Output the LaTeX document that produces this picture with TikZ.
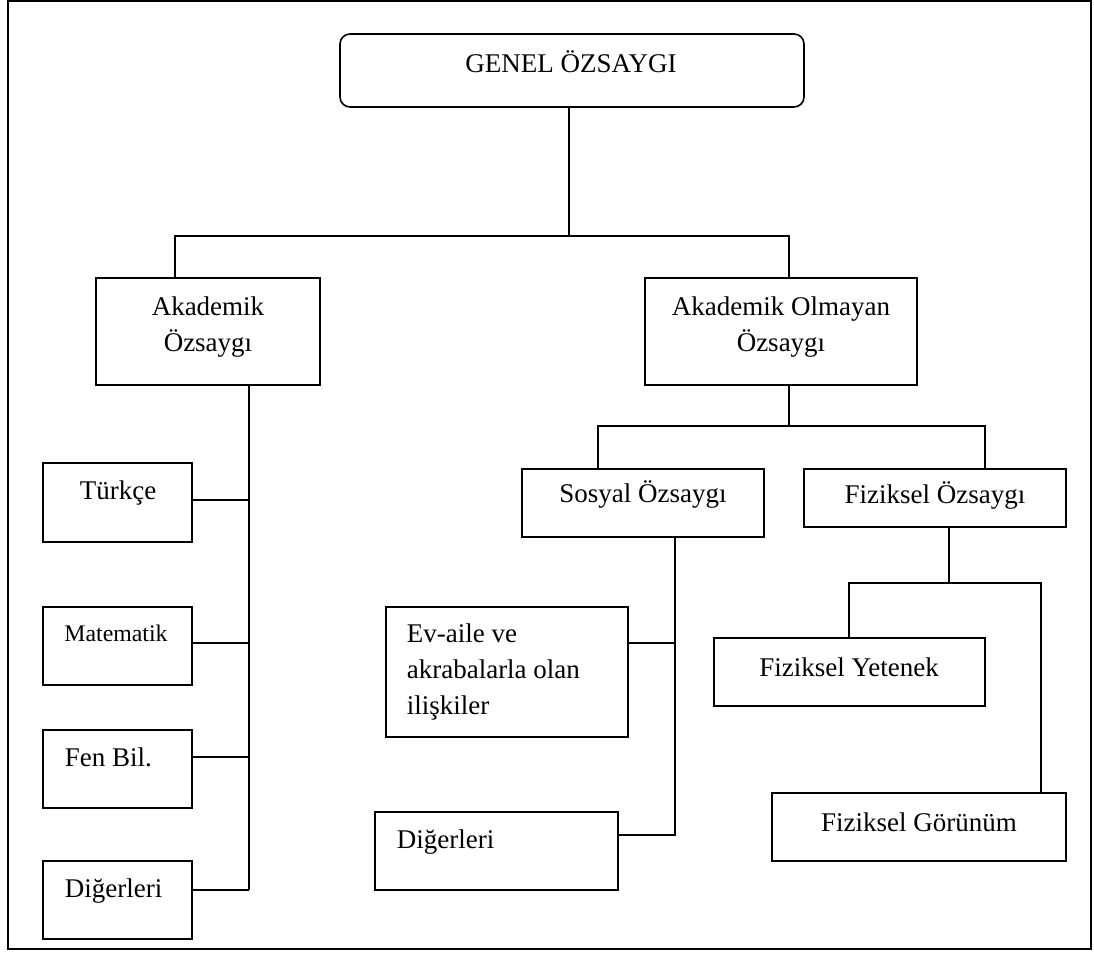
\documentclass[tikz,border=0pt]{standalone}
\usepackage{fontspec}
\setmainfont{Liberation Serif}
\usetikzlibrary{fit}
\usetikzlibrary{calc}

\begin{document}
\begin{tikzpicture}[x=0.5pt, y=-0.5pt, line width=0.8pt,
		kutu/.style={draw, inner sep=0pt},
		yazi/.style={inner sep=0pt, font=\fontsize{13.5}{18}\selectfont},
		kucuk/.style={inner sep=0pt, font=\fontsize{11.9}{16}\selectfont}]
			\useasboundingbox (0,0) rectangle (1094,953);
			\draw (8,1) rectangle (1091,949);
			
			%coordinates
			\coordinate (top)  at (569,236);
			\coordinate (tl)   at (175,236);
			\coordinate (tr)   at (789,236);
			\coordinate (ak)   at (249,890);
			\coordinate (oj)   at (789,426);
			\coordinate (ol)   at (598,426);
			\coordinate (or)   at (985,426);
			\coordinate (sj)   at (675,835);
			\coordinate (fj)   at (949,583);
			\coordinate (fl)   at (849,583);
			\coordinate (fr)   at (1041,583);
			
			%nodes
			\node[kutu, rounded corners=5pt, fit={(340,34) (804,107)}] (gen) {};
			\node[kutu, fit={(96,278) (320,385)}]   (akad) {};
			\node[kutu, fit={(645,278) (917,385)}]  (olm) {};
			\node[kutu, fit={(43,463) (192,542)}]   (tur) {};
			\node[kutu, fit={(43,607) (192,685)}]   (mat) {};
			\node[kutu, fit={(43,730) (192,808)}]   (fen) {};
			\node[kutu, fit={(43,861) (192,939)}]   (digA) {};
			\node[kutu, fit={(522,469) (764,537)}]  (sos) {};
			\node[kutu, fit={(804,469) (1066,527)}] (fiz) {};
			\node[kutu, fit={(386,607) (628,737)}]  (ev) {};
			\node[kutu, fit={(375,812) (618,890)}]  (digS) {};
			\node[kutu, fit={(714,638) (985,706)}]  (yet) {};
			\node[kutu, fit={(772,793) (1066,861)}] (gor) {};
			
			%texts (base = last line)
			\node[yazi, anchor=base] (genT) at (571,72) {GENEL ÖZSAYGI};
			\node[yazi, anchor=base, align=center] (akadT) at (208,351) {Akademik\\Özsaygı};
			\node[yazi, anchor=base, align=center] (olmT) at (781,351) {Akademik Olmayan\\Özsaygı};
			\node[yazi, anchor=base] (turT) at (118,499) {Türkçe};
			\node[kucuk, anchor=base] (matT) at (116,641) {Matematik};
			\node[yazi, anchor=base west] (fenT) at (64,766) {Fen Bil.};
			\node[yazi, anchor=base west] (digAT) at (64,897) {Diğerleri};
			\node[yazi, anchor=base] (sosT) at (643,502) {Sosyal Özsaygı};
			\node[yazi, anchor=base] (fizT) at (935,503) {Fiziksel Özsaygı};
			\node[yazi, anchor=base west, align=left] (evT) at (406,714) {Ev-aile ve\\akrabalarla olan\\ilişkiler};
			\node[yazi, anchor=base west] (digST) at (396,848) {Diğerleri};
			\node[yazi, anchor=base] (yetT) at (849,676) {Fiziksel Yetenek};
			\node[yazi, anchor=base] (gorT) at (919,831) {Fiziksel Görünüm};
			
			%connectors
			\draw (gen.south -| top) -- (top);
			\draw (akad.north -| tl) -- (tl) -- (tr) -- (olm.north -| tr);
			\draw (akad.south -| ak) -- (ak);
			\foreach \n/\y in {tur/500, mat/643, fen/757, digA/890}
				\draw (\n.east |- 0,\y) -- (ak |- 0,\y);
			\draw (olm.south -| oj) -- (oj);
			\draw (sos.north -| ol) -- (ol) -- (or) -- (fiz.north -| or);
			\draw (sos.south -| sj) -- (sj) -- (digS.east |- sj);
			\draw (ev.east |- 0,643) -- (sj |- 0,643);
			\draw (fiz.south -| fj) -- (fj);
			\draw (yet.north -| fl) -- (fl) -- (fr) -- (gor.north -| fr);
\end{tikzpicture}
\end{document}
